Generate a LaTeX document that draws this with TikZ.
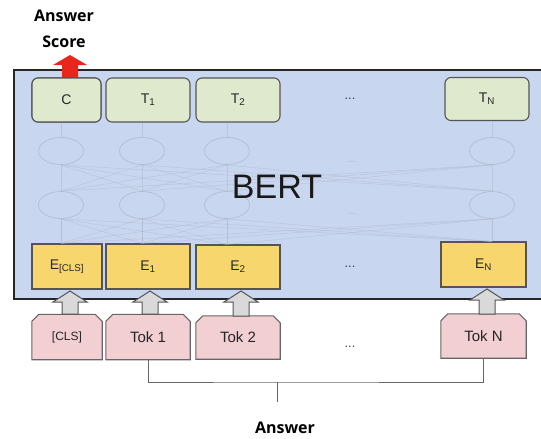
\documentclass[tikz,border=0pt]{standalone}
\usepackage{fontspec}
\setmainfont{Liberation Sans}
\newfontfamily\ansfont{Open Sans}
\usetikzlibrary{shapes.geometric,calc}
\definecolor{bertblue}{RGB}{201,214,240}
\definecolor{outgreen}{RGB}{222,233,206}
\definecolor{embyellow}{RGB}{248,214,110}
\definecolor{tokpink}{RGB}{242,207,211}
\definecolor{faint}{RGB}{175,185,205}
\definecolor{redarr}{RGB}{232,38,28}
\definecolor{edgegray}{RGB}{85,85,85}
\newcommand\grayuparrow[3]{% x, tip y, bottom y
  \filldraw[garrow] (#1-8,#3) -- (#1-8,#2+11) -- (#1-17,#2+11) -- (#1,#2)
    -- (#1+17,#2+11) -- (#1+8,#2+11) -- (#1+8,#3) -- cycle;}
\newcommand\tokoutline[1]{%
  \filldraw[tokedge] (#1.south west) -- ($(#1.north west)+(0,7)$) -- ($(#1.north west)+(7,0)$)
    -- ($(#1.north east)+(-7,0)$) -- ($(#1.north east)+(0,7)$) -- (#1.south east) -- cycle;}
\tikzset{
  outbox/.style={draw=edgegray, fill=outgreen, rounded corners=6pt, line width=1.1pt,
    minimum width=84pt, minimum height=44pt, inner sep=0pt,
    font=\fontsize{14}{14}\selectfont, text=black!85},
  embbox/.style={draw=edgegray, fill=embyellow, line width=1.1pt,
    minimum width=84pt, minimum height=45pt, inner sep=0pt,
    font=\fontsize{14}{14}\selectfont, text=black!85},
  tokbox/.style={rectangle, minimum width=84pt, minimum height=45pt, inner sep=0pt,
    font=\fontsize{15}{15}\selectfont, text=black!85},
  tokedge/.style={draw=gray!80!black, fill=tokpink, line width=1.1pt, line join=miter},
  neuron/.style={ellipse, draw=faint, line width=0.8pt, minimum width=45pt,
    minimum height=27pt, inner sep=0pt, opacity=0.75},
  faintline/.style={draw=faint, line width=0.5pt, opacity=0.55},
  dots/.style={font=\fontsize{13}{13}\selectfont, text=black!75},
  fdots/.style={font=\fontsize{10}{10}\selectfont, text=faint},
  garrow/.style={fill=gray!30, draw=edgegray, line width=1pt, line join=miter},
  rarrow/.style={fill=redarr, draw=none},
  bracket/.style={draw=gray!80!black, line width=1pt},
  anstext/.style={font=\ansfont\bfseries\fontsize{16}{26}\selectfont, align=center}
}
\begin{document}
\begin{tikzpicture}[x=1pt,y=-1pt]
\useasboundingbox (0,0) rectangle (541,439);
\clip (0,0) rectangle (541,439);
% BERT container
\fill[bertblue] (14,70) rectangle (560,299);
\draw[line width=2pt, black!85] (560,70) -- (14,70) -- (14,299) -- (560,299);

% top output boxes
\node[outbox, minimum width=69pt] (c) at (66.5,100) {C};
\node[outbox] (t1) at (148,100) {T\textsubscript{1}};
\node[outbox] (t2) at (238,100) {T\textsubscript{2}};
\node[outbox, minimum height=43pt] (tn) at (487,99) {T\textsubscript{N}};
\node[dots] (tdots) at (350,99) {...};

% hidden neurons
\foreach \i/\x in {1/61,2/142,3/227,4/492}{
  \coordinate (a\i) at (\x,151);
  \coordinate (b\i) at (\x,205);
}
% embeddings
\node[embbox, minimum width=70pt] (ecls) at (67,266.5) {E\textsubscript{[CLS]}};
\node[embbox] (e1) at (148,266.5) {E\textsubscript{1}};
\node[embbox, minimum height=44pt] (e2) at (238,267) {E\textsubscript{2}};
\node[embbox, minimum width=85pt] (en) at (483.5,264.5) {E\textsubscript{N}};
\node[dots] (edots) at (350,267) {...};

% neurons
\foreach \i in {1,...,4}{
  \node[neuron] (na\i) at (a\i) {};
  \node[neuron] (nb\i) at (b\i) {};
}
% faint connections
\draw[faintline] (na1.north) -- (na1.north |- c.south);
\draw[faintline] (na2.north) -- (na2.north |- t1.south);
\draw[faintline] (na3.north) -- (na3.north |- t2.south);
\draw[faintline] (na4.north) -- (na4.north |- tn.south);
\foreach \i in {1,...,4}{
  \foreach \j in {1,...,4}{
    \draw[faintline] (na\i.south) -- (nb\j.north);
  }
}
\draw[faintline] (nb1.south) -- (nb1.south |- ecls.north);
\draw[faintline] (nb2.south) -- (nb2.south |- e1.north);
\draw[faintline] (nb3.south) -- (nb3.south |- e2.north);
\draw[faintline] (nb4.south) -- (nb4.south |- en.north);
\foreach \i in {1,...,4}{
  \draw[faintline] (nb\i.south) -- (nb1.south |- ecls.north);
  \draw[faintline] (nb\i.south) -- (nb2.south |- e1.north);
  \draw[faintline] (nb\i.south) -- (nb3.south |- e2.north);
  \draw[faintline] (nb\i.south) -- (nb4.south |- en.north);
}
\node[fdots] (fd1) at (352,162) {...};
\node[fdots] (fd2) at (352,214) {...};

\node[font=\fontsize{34}{34}\selectfont, text=black!90] (bert) at (277,187) {BERT};

% tokens
\node[tokbox, minimum width=70pt] (tcls) at (67,337) {};
\node[tokbox] (tok1) at (148,337) {};
\node[tokbox, minimum height=43pt] (tok2) at (238,337.5) {};
\node[tokbox, minimum width=85pt, minimum height=44pt] (tokn) at (483.5,336) {};
\tokoutline{tcls}
\tokoutline{tok1}
\tokoutline{tok2}
\tokoutline{tokn}
\node[font=\fontsize{12}{12}\selectfont, text=black!85] at (tcls) {[CLS]};
\node[font=\fontsize{15}{15}\selectfont, text=black!85] at (tok1) {Tok 1};
\node[font=\fontsize{15}{15}\selectfont, text=black!85] at (tok2) {Tok 2};
\node[font=\fontsize{15}{15}\selectfont, text=black!85] at (tokn) {Tok N};
\node[dots] (tokdots) at (350,347) {...};

% gray arrows
\grayuparrow{70}{291}{314}
\grayuparrow{150}{291}{314}
\grayuparrow{241}{291}{316}
\grayuparrow{487}{289}{314}

% red output arrow
\fill[rarrow] (62,78) -- (62,65) -- (53,65) -- (70,55) -- (87,65) -- (78,65) -- (78,78) -- cycle;
\node[outbox, minimum width=69pt] at (c) {C};

% answer labels
\node[anstext] (score) at (64,29) {Answer\\Score};
\coordinate (brk) at (277,382);
\coordinate (stem) at (277,402);
\draw[bracket] (tok1.south) |- (brk) -| (tokn.south);
\draw[bracket] (brk) -- (stem);
\node[anstext] (answer) at (285,428) {Answer};
\end{tikzpicture}
\end{document}
